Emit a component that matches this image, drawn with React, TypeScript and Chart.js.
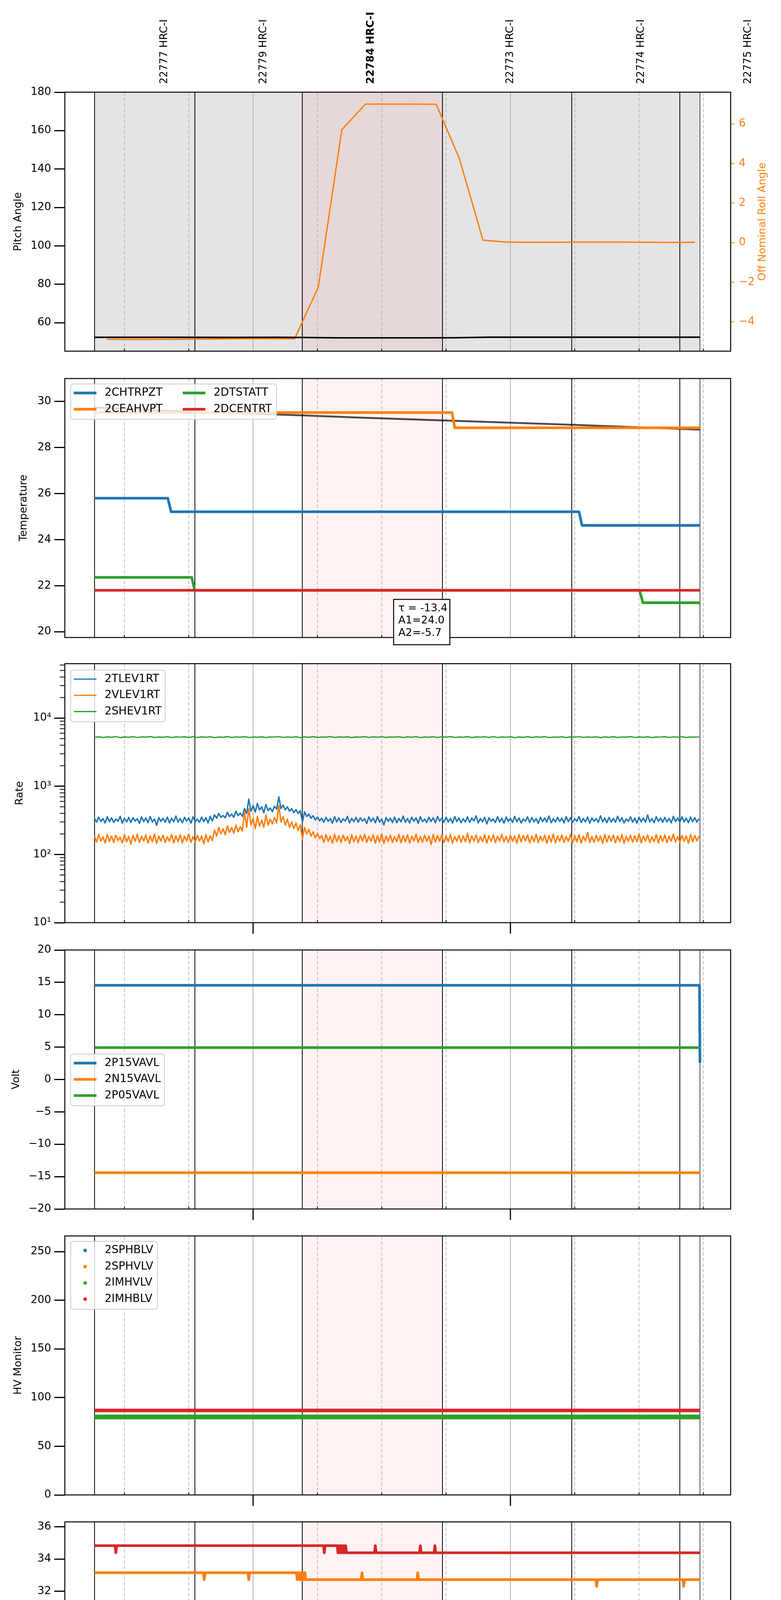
import React, { useEffect, useRef } from 'react';
import Chart from 'chart.js/auto';

const FONT = '"DejaVu Sans", sans-serif';
const FONT_FAMILY = 'DejaVu Sans';
const BLUE = '#1f77b4';
const ORANGE = '#ff7f0e';
const GREEN = '#2ca02c';
const RED = '#d62728';

// page layout (px)
const PLOT_LEFT = 166;
const PLOT_RIGHT = 1871;
const PAGE_W = 2000;
const PAGE_H = 5400;
const PANEL_TOPS = [236, 969, 1699, 2432, 3164, 3896, 4628];
const PANEL_H = 663;

// time axis, minutes from 2020-03-23 00:00
const X_MIN = -43.9;
const X_MAX = 111.35;
const MINOR_TIMES = [-30, -15, 15, 30, 45, 75, 90, 105];
const MINOR_LABELS = ['30', '45', '15', '30', '45', '15', '30', '45'];
const HOUR_TIMES = [0, 60];
const HOUR_LABELS = ['00h', '01h'];
const X_TITLE = '2020-03-23 (083)';
const DATA_START = -36.97;
const DATA_END = 104.2;
const OBS_EDGES = [-36.97, -13.57, 11.47, 44.16, 74.3, 99.5];
const HILITE = [11.47, 44.16];
const OBS_NAMES = ['22777 HRC-I', '22779 HRC-I', '22784 HRC-I', '22773 HRC-I', '22774 HRC-I', '22775 HRC-I'];
const OBS_NAME_TIMES = [-20.7, 2.5, 27.5, 60.0, 90.5, 115.5];
const BOLD_OBS = '22784 HRC-I';

// panel 1: pitch / roll
const PITCH_TICKS = [60, 80, 100, 120, 140, 160, 180];
const ROLL_TICKS = [-4, -2, 0, 2, 4, 6];
const pitchTimes = [-36.97, -20, -5, 5, 12, 20, 30, 40, 47, 55, 70, 90, 104.2];
const pitchValues = [52.4, 52.4, 52.35, 52.4, 52.3, 52.1, 52.1, 52.1, 52.15, 52.45, 52.45, 52.45, 52.45];
const rollTimes = [-34.1, -28.6, -23.1, -17.6, -12.2, -6.7, -1.2, 4.3, 9.7, 15.2, 20.7, 26.2, 31.7,
  37.2, 42.7, 48.1, 53.6, 59.1, 64.6, 70.1, 75.6, 81.1, 86.5, 92.0, 97.5, 103.0];
const rollValues = [-4.88, -4.89, -4.89, -4.88, -4.87, -4.86, -4.85, -4.85, -4.85, -2.25, 5.71, 7.0, 7.0,
  7.0, 6.99, 4.25, 0.13, 0.03, 0.02, 0.02, 0.03, 0.03, 0.03, 0.02, 0.01, 0.02];

// panel 2: temperature
const TEMP_TICKS = [20, 22, 24, 26, 28, 30];
const fitTimes = [-36.97, -25, -13.6, 0, 11.5, 25, 44.2, 60, 74.3, 90, 104.2];
const fitValues = [29.74, 29.64, 29.55, 29.47, 29.4, 29.3, 29.18, 29.08, 28.99, 28.88, 28.78];
const chtrpztTimes = [-36.97, -19.9, -19.1, 76.0, 76.7, 104.2];
const chtrpztValues = [25.8, 25.8, 25.21, 25.21, 24.62, 24.62];
const ceahvptTimes = [-36.97, 46.4, 47.0, 104.2];
const ceahvptValues = [29.52, 29.52, 28.86, 28.86];
const dtstattTimes = [-36.97, -14.3, -13.6, 90.1, 90.9, 104.2];
const dtstattValues = [22.36, 22.36, 21.8, 21.8, 21.26, 21.26];
const dcentrtTimes = [-36.97, 104.2];
const dcentrtValues = [21.8, 21.8];
const FIT_TEXT = ['\u03c4 = -13.4', 'A1=24.0', 'A2=-5.7'];

// panel 3: rates (TLEV/VLEV every 0.5 min from RATE_START, SHEV every minute)
const RATE_TICKS = [10, 100, 1000, 10000];
const RATE_START = -37;
const RATE_STEP = 0.5;
const SHE_STEP = 1;
const tlev1rt = [
  340, 298, 352, 305, 336, 290, 358, 302, 344, 296, 330, 308, 362, 288, 338, 300, 350, 294, 346, 310,
  334, 286, 356, 304, 342, 292, 360, 300, 332, 268, 348, 306, 340, 296, 354, 290, 338, 302, 366, 298,
  336, 292, 350, 308, 344, 288, 358, 300, 330, 296, 352, 304, 346, 290, 362, 310,
  380, 340, 400, 352, 372, 345, 415, 360, 390, 350, 430, 370, 405, 362,
  470, 400, 650, 430, 520, 420, 560, 450, 500, 410, 540, 440, 480, 425, 510, 460, 700, 470, 530, 450,
  500, 430, 470, 410, 455, 400, 440, 300, 420, 360, 390, 340, 370, 320, 355, 310,
  340, 296, 352, 306, 336, 288, 358, 300, 344, 294, 332, 310, 362, 290, 338, 302, 350, 296, 346, 308,
  334, 284, 356, 304, 342, 292, 360, 298, 330, 270, 348, 306, 340, 294, 354, 292, 338, 300, 366, 296,
  336, 290, 350, 306, 344, 286, 358, 302, 330, 294, 352, 304, 346, 292, 362, 308, 340, 296, 352, 300,
  338, 288, 360, 304, 344, 292, 334, 300, 356, 296, 342, 310, 368, 290, 336, 302, 350, 280, 346, 306,
  332, 294, 358, 300, 340, 288, 354, 306, 338, 296, 362, 302, 344, 290, 330, 308, 356, 294, 348, 300,
  336, 286, 352, 304, 342, 298, 366, 292, 334, 300, 350, 306, 340, 290, 358, 302, 346, 296, 332, 308,
  360, 294, 338, 300, 354, 288, 344, 306, 336, 296, 370, 302, 342, 292, 350, 300, 338, 296, 364, 304,
  346, 290, 332, 306, 356, 298, 340, 288, 352, 302, 344, 296, 380, 300, 336, 292, 358, 306, 342, 296,
  350, 300, 338, 290, 362, 304, 344, 296, 356, 300, 340, 292, 354, 302, 346, 298, 336,
];
const vlev1rt = [
  188, 152, 196, 158, 182, 146, 198, 155, 186, 150, 192, 160, 180, 148, 195, 154, 184, 142, 190, 156,
  198, 150, 184, 158, 194, 147, 188, 153, 200, 145, 186, 157, 192, 150, 182, 156, 197, 148, 188, 154,
  194, 146, 185, 158, 199, 150, 183, 152, 191, 157, 186, 144, 196, 153, 189, 160,
  230, 185, 250, 200, 240, 195, 262, 210, 248, 205, 270, 215, 255, 220,
  420, 250, 470, 270, 340, 240, 360, 260, 320, 250, 380, 270, 330, 280, 350, 290, 520, 300, 360, 270,
  330, 250, 300, 240, 290, 225, 270, 170, 250, 200, 235, 185, 215, 175, 205, 170,
  190, 150, 196, 156, 184, 146, 198, 154, 188, 150, 192, 158, 182, 144, 195, 153, 186, 149, 192, 157,
  198, 151, 184, 157, 194, 146, 188, 152, 201, 145, 186, 156, 192, 150, 183, 155, 197, 148, 189, 153,
  194, 147, 185, 158, 199, 150, 183, 151, 191, 156, 186, 140, 196, 152, 189, 157, 193, 149, 187, 154,
  197, 146, 184, 156, 192, 151, 188, 153, 205, 148, 186, 157, 193, 150, 182, 154, 196, 147, 189, 155,
  194, 149, 185, 157, 199, 152, 183, 150, 191, 156, 187, 146, 196, 153, 190, 158, 193, 148, 186, 154,
  198, 150, 184, 157, 192, 146, 188, 152, 200, 147, 186, 156, 193, 151, 183, 155, 197, 149, 189, 153,
  195, 147, 185, 158, 210, 150, 183, 151, 191, 156, 186, 145, 196, 152, 189, 157, 193, 148, 187, 154,
  197, 146, 184, 156, 192, 151, 188, 153, 202, 148, 186, 157, 193, 150, 182, 154, 196, 147, 189, 155,
  194, 149, 185, 157, 199, 152, 183, 150, 191, 156, 187, 146, 196, 153, 190, 158, 186,
];
const shev1rt = [
  5210, 5320, 5180, 5300, 5240, 5350, 5170, 5290, 5230, 5330, 5190, 5310, 5250, 5360, 5200, 5280, 5230, 5340, 5180, 5300,
  5260, 5320, 5200, 5350, 5190, 5300, 5240, 5330, 5170, 5290, 5220, 5360, 5200, 5310, 5250, 5340, 5190, 5280, 5230, 5320,
  5180, 5300, 5260, 5350, 5210, 5290, 5240, 5330, 5170, 5310, 5220, 5340, 5200, 5280, 5250, 5360, 5190, 5300, 5230, 5320,
  5180, 5290, 5260, 5340, 5210, 5310, 5240, 5330, 5200, 5290, 5250, 5320, 5180, 5300, 5240, 5350, 5170, 5290, 5230, 5330,
  5190, 5310, 5250, 5360, 5200, 5280, 5230, 5340, 5180, 5300, 5260, 5320, 5200, 5350, 5190, 5300, 5240, 5330, 5170, 5290,
  5220, 5360, 5200, 5310, 5250, 5340, 5190, 5280, 5230, 5320, 5180, 5300, 5260, 5350, 5210, 5290, 5240, 5330, 5170, 5310,
  5220, 5340, 5200, 5280, 5250, 5360, 5190, 5300, 5230, 5320, 5180, 5290, 5260, 5340, 5210, 5310, 5240, 5330, 5200, 5290,
  5250, 5300,
];

// panel 4: volts
const VOLT_TICKS = [-20, -15, -10, -5, 0, 5, 10, 15, 20];
const p15Times = [-36.97, 104.1, 104.2];
const p15Values = [14.55, 14.55, 2.6];
const n15Times = [-36.97, 104.2];
const n15Values = [-14.4, -14.4];
const p05Times = [-36.97, 104.2];
const p05Values = [4.92, 4.92];

// panel 5: HV monitor
const HV_TICKS = [0, 50, 100, 150, 200, 250];
const imhvlvTimes = [-36.97, 104.2];
const imhvlvValues = [80.1, 80.1];
const imhblvTimes = [-36.97, 104.2];
const imhblvValues = [86.8, 86.8];

// panel 6: detector temps
const DET_TICKS = [22, 24, 26, 28, 30, 32, 34, 36];
const spinatmTimes = [-36.97, 104.2];
const spinatmValues = [22.41, 22.41];
const iminatmTimes = [-36.97, 104.2];
const iminatmValues = [21.71, 21.71];
const sphvatmTimes = [-36.97, -11.6, -11.4, -11.2, -1.2, -1.0, -0.8, 10.1, 10.3, 10.5, 10.7, 10.9, 11.1, 11.3,
  11.5, 11.7, 11.9, 12.1, 12.3, 12.5, 25.2, 25.4, 25.6, 38.2, 38.4, 38.6, 79.9, 80.1, 80.3, 100.2, 100.4, 100.6, 104.2];
const sphvatmValues = [33.15, 33.15, 32.72, 33.15, 33.15, 32.72, 33.15, 33.15, 32.72, 33.15, 32.72, 33.15, 32.72, 33.15,
  32.72, 33.15, 32.72, 33.15, 32.72, 32.72, 32.72, 33.15, 32.72, 32.72, 33.15, 32.72, 32.72, 32.3, 32.72, 32.72, 32.3, 32.72, 32.72];
const imhvatmTimes = [-36.97, -32.2, -32.0, -31.8, 16.4, 16.6, 16.8,
  19.6, 19.8, 20.0, 20.2, 20.4, 20.6, 20.8, 21.0, 21.2, 21.4, 21.6, 21.8,
  28.3, 28.5, 28.7, 38.8, 39.0, 39.2, 42.2, 42.4, 42.6, 104.2];
const imhvatmValues = [34.83, 34.83, 34.39, 34.83, 34.83, 34.39, 34.83,
  34.83, 34.39, 34.83, 34.39, 34.83, 34.39, 34.83, 34.39, 34.83, 34.39, 34.83, 34.39,
  34.39, 34.83, 34.39, 34.39, 34.83, 34.39, 34.39, 34.83, 34.39, 34.39];

// panel 7: FEA temps
const FEA_TICKS = [18, 20, 22, 24, 26];
const fhtrmztTimes = [-36.97, 16.4, 16.9, 48.3, 48.6, 48.9, 75.1, 75.6, 101.9, 102.2, 102.5, 104.2];
const fhtrmztValues = [23.47, 23.47, 22.9, 22.9, 23.5, 22.9, 22.9, 22.35, 22.35, 24.55, 22.35, 22.35];
const fradpytTimes = [-36.97, -1.6, -1.0, 34.6, 35.1, 82.9, 83.5, 104.2];
const fradpytValues = [18.65, 18.65, 18.14, 18.14, 17.65, 17.65, 17.16, 17.16];
const fepratmTimes = [-36.97, -31.4, -31.2, -31.0, -30.8, -30.6, -30.4, -30.2, -30.0, -29.8, -29.6,
  79.0, 79.2, 79.4, 79.6, 79.8, 80.0, 80.2, 80.4, 80.6, 80.8, 81.0, 104.2];
const fepratmValues = [26.16, 26.16, 25.39, 26.16, 25.39, 26.16, 25.39, 26.16, 25.39, 26.16, 25.39,
  25.39, 24.63, 25.39, 24.63, 25.39, 24.63, 25.39, 24.63, 25.39, 24.63, 24.63, 24.63];
const fe00atmTimes = [
  -36.97, -16.1, -15.9, -15.7,
  -11.3, -11.1, -10.9,
  -6.1, -5.9, -5.7,
  -4.95, -4.7, -4.45, -4.2, -3.95, -3.7, -3.45, -3.2, -2.95, -2.7, -2.45, -2.1,
  -1.4, -1.2, -1.0, -0.5, -0.3, -0.1,
  1.5, 1.7, 1.9,
  2.8, 3.0, 3.2,
  4.6, 4.8, 5.0,
  6.6, 6.8, 7.0, 7.2, 7.4, 7.6,
  8.3, 8.5, 8.7, 9.1, 9.3, 9.5,
  36.0, 36.2, 36.4,
  43.4, 43.8, 46.7, 46.9, 47.1, 47.8, 48.0, 48.2,
  70.6, 70.8, 71.0,
  83.8, 84.0, 84.2,
  86.8, 87.0, 87.3, 87.6, 87.9, 88.2, 88.5, 88.7,
  91.2, 91.4, 91.6,
  95.2, 95.4, 95.6,
  104.2,
];
const fe00atmValues = [
  22.98, 22.98, 22.61, 22.98,
  22.98, 22.3, 22.98,
  22.98, 22.3, 22.98,
  22.98, 22.64, 22.98, 22.64, 22.98, 22.64, 22.98, 22.64, 22.98, 22.64, 22.98, 22.64,
  22.64, 22.98, 22.64, 22.64, 22.98, 22.64,
  22.64, 22.98, 22.64,
  22.64, 22.98, 22.64,
  22.64, 22.3, 22.64,
  22.64, 22.98, 22.64, 22.64, 23.32, 22.64,
  22.64, 22.3, 22.64, 22.64, 22.3, 22.64,
  22.64, 21.97, 22.64,
  22.64, 22.33, 22.33, 22.64, 22.33, 22.33, 21.05, 22.33,
  22.33, 21.69, 22.33,
  22.33, 22.02, 22.33,
  22.33, 22.02, 22.33, 22.02, 22.33, 22.02, 22.33, 22.02,
  22.02, 22.33, 22.02,
  22.02, 22.33, 22.02,
  22.02,
];

type LegendItem = { label: string; color: string; lw: number; dot?: boolean };
type PanelDef = {
  title: string;
  titleX: number;
  datasets: any[];
  scales: any;
  legend?: { top: number; width: number; cols: number; items: LegendItem[] };
  grayBand?: boolean;
  obsLabels?: boolean;
  hourTicks?: boolean;
  timeLabels?: boolean;
  logMinor?: boolean;
  fitBox?: boolean;
  rightTitle?: string;
};

const xy = (ts: number[], vs: number[]) => ts.map((t, i) => ({ x: t, y: vs[i] }));
const sampled = (vs: number[], step: number) => vs.map((v, i) => ({ x: RATE_START + i * step, y: v }));
const fmt = (v: number) => (v < 0 ? '\u2212' + Math.abs(v) : String(v));
const SUP: Record<string, string> = { '0': '\u2070', '1': '\u00b9', '2': '\u00b2', '3': '\u00b3', '4': '\u2074' };
const fmtPow = (v: number) => '10' + String(Math.round(Math.log10(v))).split('').map((c) => SUP[c]).join('');

function lineDs(label: string, data: any[], color: string, lw: number, yAxisID = 'y') {
  return {
    label, data, yAxisID,
    borderColor: color, backgroundColor: color, borderWidth: lw,
    pointRadius: 0, tension: 0, fill: false,
    borderJoinStyle: 'round', borderCapStyle: 'butt',
  };
}

function yAxis(min: number, max: number, ticks: number[], extra: any = {}) {
  return {
    type: 'linear', position: 'left', min, max,
    afterBuildTicks: (s: any) => { s.ticks = ticks.map((v) => ({ value: v })); },
    afterFit: (s: any) => { s.width = PLOT_LEFT; },
    border: { display: false },
    grid: { display: true, drawOnChartArea: false, drawTicks: true, tickLength: 27, tickWidth: 3, tickColor: '#000' },
    ticks: { autoSkip: false, color: '#000', padding: 8, font: { family: FONT_FAMILY, size: 27.5 }, callback: (v: number) => fmt(v) },
    ...extra,
  };
}

const xAxis = { type: 'linear', min: X_MIN, max: X_MAX, display: false };

function panelDefs(): PanelDef[] {
  const thick = 6.8;
  return [
    {
      title: 'Pitch Angle', titleX: 47, grayBand: true, obsLabels: true, rightTitle: 'Off Nominal Roll Angle',
      datasets: [
        lineDs('Roll', xy(rollTimes, rollValues), ORANGE, 3.5, 'y2'),
        lineDs('Pitch', xy(pitchTimes, pitchValues), '#000', 3.8),
      ],
      scales: {
        x: xAxis,
        y: yAxis(45.18, 180, PITCH_TICKS),
        y2: {
          type: 'linear', position: 'right', min: -5.48, max: 7.6,
          afterBuildTicks: (s: any) => { s.ticks = ROLL_TICKS.map((v) => ({ value: v })); },
          afterFit: (s: any) => { s.width = PAGE_W - PLOT_RIGHT; },
          border: { display: false },
          grid: { display: true, drawOnChartArea: false, drawTicks: true, tickLength: 10, tickWidth: 2, tickColor: ORANGE },
          ticks: { autoSkip: false, color: ORANGE, padding: 11, font: { family: FONT_FAMILY, size: 27.5 }, callback: (v: number) => fmt(v) },
        },
      },
    },
    {
      title: 'Temperature', titleX: 61, fitBox: true,
      datasets: [
        lineDs('fit', xy(fitTimes, fitValues), 'rgba(0,0,0,0.7)', 4.8),
        lineDs('2CHTRPZT', xy(chtrpztTimes, chtrpztValues), BLUE, thick),
        lineDs('2CEAHVPT', xy(ceahvptTimes, ceahvptValues), ORANGE, thick),
        lineDs('2DTSTATT', xy(dtstattTimes, dtstattValues), GREEN, thick),
        lineDs('2DCENTRT', xy(dcentrtTimes, dcentrtValues), RED, thick),
      ],
      scales: { x: xAxis, y: yAxis(19.75, 31.0, TEMP_TICKS) },
      legend: {
        top: 14, width: 527, cols: 2,
        items: [
          { label: '2CHTRPZT', color: BLUE, lw: thick },
          { label: '2CEAHVPT', color: ORANGE, lw: thick },
          { label: '2DTSTATT', color: GREEN, lw: thick },
          { label: '2DCENTRT', color: RED, lw: thick },
        ],
      },
    },
    {
      title: 'Rate', titleX: 51, hourTicks: true, logMinor: true,
      datasets: [
        lineDs('2TLEV1RT', sampled(tlev1rt, RATE_STEP), BLUE, 3.6),
        lineDs('2VLEV1RT', sampled(vlev1rt, RATE_STEP), ORANGE, 3.6),
        lineDs('2SHEV1RT', sampled(shev1rt, SHE_STEP), GREEN, 3.2),
      ],
      scales: {
        x: xAxis,
        y: yAxis(10, 62800, RATE_TICKS, {
          type: 'logarithmic',
          ticks: { autoSkip: false, color: '#000', padding: 8, font: { family: FONT_FAMILY, size: 27.5 }, callback: (v: number) => fmtPow(v) },
        }),
      },
      legend: {
        top: 16.5, width: 242, cols: 1,
        items: [
          { label: '2TLEV1RT', color: BLUE, lw: 3.2 },
          { label: '2VLEV1RT', color: ORANGE, lw: 3.2 },
          { label: '2SHEV1RT', color: GREEN, lw: 3.2 },
        ],
      },
    },
    {
      title: 'Volt', titleX: 42, hourTicks: true,
      datasets: [
        lineDs('2P15VAVL', xy(p15Times, p15Values), BLUE, thick),
        lineDs('2N15VAVL', xy(n15Times, n15Values), ORANGE, thick),
        lineDs('2P05VAVL', xy(p05Times, p05Values), GREEN, thick),
      ],
      scales: { x: xAxis, y: yAxis(-20, 20, VOLT_TICKS) },
      legend: {
        top: 266.5, width: 240, cols: 1,
        items: [
          { label: '2P15VAVL', color: BLUE, lw: thick },
          { label: '2N15VAVL', color: ORANGE, lw: thick },
          { label: '2P05VAVL', color: GREEN, lw: thick },
        ],
      },
    },
    {
      title: 'HV Monitor', titleX: 47, hourTicks: true,
      datasets: [
        lineDs('2SPHBLV', [], BLUE, 9),
        lineDs('2SPHVLV', [], ORANGE, 9),
        lineDs('2IMHVLV', xy(imhvlvTimes, imhvlvValues), GREEN, 12),
        lineDs('2IMHBLV', xy(imhblvTimes, imhblvValues), RED, 9),
      ],
      scales: { x: xAxis, y: yAxis(0, 266.1, HV_TICKS) },
      legend: {
        top: 14, width: 222, cols: 1,
        items: [
          { label: '2SPHBLV', color: BLUE, lw: 0, dot: true },
          { label: '2SPHVLV', color: ORANGE, lw: 0, dot: true },
          { label: '2IMHVLV', color: GREEN, lw: 0, dot: true },
          { label: '2IMHBLV', color: RED, lw: 0, dot: true },
        ],
      },
    },
    {
      title: 'Detector Temp', titleX: 64, hourTicks: true,
      datasets: [
        lineDs('2SPINATM', xy(spinatmTimes, spinatmValues), BLUE, thick),
        lineDs('2SPHVATM', xy(sphvatmTimes, sphvatmValues), ORANGE, thick),
        lineDs('2IMINATM', xy(iminatmTimes, iminatmValues), GREEN, thick),
        lineDs('2IMHVATM', xy(imhvatmTimes, imhvatmValues), RED, thick),
      ],
      scales: { x: xAxis, y: yAxis(20.21, 36.31, DET_TICKS) },
      legend: {
        top: 245, width: 245, cols: 1,
        items: [
          { label: '2SPINATM', color: BLUE, lw: thick },
          { label: '2SPHVATM', color: ORANGE, lw: thick },
          { label: '2IMINATM', color: GREEN, lw: thick },
          { label: '2IMHVATM', color: RED, lw: thick },
        ],
      },
    },
    {
      title: 'FEA Temp', titleX: 61, hourTicks: true, timeLabels: true,
      datasets: [
        lineDs('2FHTRMZT', xy(fhtrmztTimes, fhtrmztValues), BLUE, thick),
        lineDs('2FRADPYT', xy(fradpytTimes, fradpytValues), ORANGE, thick),
        lineDs('2FEPRATM', xy(fepratmTimes, fepratmValues), GREEN, thick),
        lineDs('2FE00ATM', xy(fe00atmTimes, fe00atmValues), RED, thick),
      ],
      scales: { x: xAxis, y: yAxis(16.14, 26.89, FEA_TICKS) },
      legend: {
        top: 243.5, width: 249, cols: 1,
        items: [
          { label: '2FHTRMZT', color: BLUE, lw: thick },
          { label: '2FRADPYT', color: ORANGE, lw: thick },
          { label: '2FEPRATM', color: GREEN, lw: thick },
          { label: '2FE00ATM', color: RED, lw: thick },
        ],
      },
    },
  ];
}

function seg(ctx: CanvasRenderingContext2D, x1: number, y1: number, x2: number, y2: number) {
  ctx.beginPath();
  ctx.moveTo(x1, y1);
  ctx.lineTo(x2, y2);
  ctx.stroke();
}

function rotText(ctx: CanvasRenderingContext2D, text: string, x: number, y: number) {
  ctx.save();
  ctx.translate(x, y);
  ctx.rotate(-Math.PI / 2);
  ctx.fillText(text, 0, 0);
  ctx.restore();
}

function drawLegend(ctx: CanvasRenderingContext2D, top: number, lg: NonNullable<PanelDef['legend']>) {
  const x0 = PLOT_LEFT + 15;
  const rows = Math.ceil(lg.items.length / lg.cols);
  const h = 49 + (rows - 1) * 41.6;
  const r = 7;
  ctx.beginPath();
  ctx.moveTo(x0 + r, top);
  ctx.arcTo(x0 + lg.width, top, x0 + lg.width, top + h, r);
  ctx.arcTo(x0 + lg.width, top + h, x0, top + h, r);
  ctx.arcTo(x0, top + h, x0, top, r);
  ctx.arcTo(x0, top, x0 + lg.width, top, r);
  ctx.closePath();
  ctx.fillStyle = 'rgba(255,255,255,0.8)';
  ctx.fill();
  ctx.strokeStyle = '#cccccc';
  ctx.lineWidth = 2;
  ctx.stroke();
  ctx.font = `28px ${FONT}`;
  ctx.textAlign = 'left';
  ctx.textBaseline = 'middle';
  lg.items.forEach((it, j) => {
    const col = Math.floor(j / rows);
    const row = j % rows;
    const bx = x0 + col * 279;
    const cy = top + 23 + row * 41.6;
    if (it.dot) {
      ctx.fillStyle = it.color;
      ctx.beginPath();
      ctx.arc(bx + 37, cy, 4.5, 0, Math.PI * 2);
      ctx.fill();
    } else {
      ctx.strokeStyle = it.color;
      ctx.lineWidth = it.lw;
      ctx.lineCap = 'butt';
      seg(ctx, bx + 8, cy, bx + 66, cy);
    }
    ctx.fillStyle = '#000';
    ctx.fillText(it.label, bx + 87, cy);
  });
}

function decorPlugin(p: PanelDef) {
  return {
    id: 'decor',
    beforeDatasetsDraw(chart: any) {
      const { ctx, chartArea: a } = chart;
      const px = (t: number) => chart.scales.x.getPixelForValue(t);
      const vline = (x: number) => seg(ctx, x, a.top, x, a.bottom);
      ctx.save();
      ctx.beginPath();
      ctx.rect(a.left, a.top, a.right - a.left, a.bottom - a.top);
      ctx.clip();
      if (p.grayBand) {
        ctx.fillStyle = '#e4e4e4';
        ctx.fillRect(px(DATA_START), a.top, px(DATA_END) - px(DATA_START), a.bottom - a.top);
      }
      ctx.fillStyle = 'rgba(255,0,0,0.05)';
      ctx.fillRect(px(HILITE[0]), a.top, px(HILITE[1]) - px(HILITE[0]), a.bottom - a.top);
      ctx.strokeStyle = '#b0b0b0';
      ctx.lineWidth = 1.6;
      ctx.setLineDash([9, 5]);
      MINOR_TIMES.forEach((t) => vline(px(t)));
      ctx.setLineDash([]);
      ctx.lineWidth = 2;
      HOUR_TIMES.forEach((t) => vline(px(t)));
      ctx.strokeStyle = '#000';
      OBS_EDGES.forEach((t) => vline(px(t)));
      ctx.strokeStyle = '#444';
      vline(px(DATA_END));
      ctx.restore();
    },
    afterDatasetsDraw(chart: any) {
      const { ctx, chartArea: a } = chart;
      const px = (t: number) => chart.scales.x.getPixelForValue(t);
      const midY = (a.top + a.bottom) / 2;
      ctx.save();
      // frame
      ctx.strokeStyle = '#000';
      ctx.lineWidth = 2.5;
      ctx.strokeRect(a.left, a.top, a.right - a.left, a.bottom - a.top);
      // x ticks
      ctx.lineWidth = 2;
      MINOR_TIMES.forEach((t) => seg(ctx, px(t), a.bottom, px(t), a.bottom - 7));
      if (p.hourTicks) {
        ctx.lineWidth = 3;
        HOUR_TIMES.forEach((t) => seg(ctx, px(t), a.bottom, px(t), a.bottom + 28));
      }
      if (p.logMinor) {
        const ys = chart.scales.y;
        ctx.lineWidth = 2;
        for (let e = 1; e <= 4; e++) {
          for (let k = 2; k <= 9; k++) {
            const v = k * Math.pow(10, e);
            if (v > ys.max) continue;
            const y = ys.getPixelForValue(v);
            seg(ctx, a.left - 13, y, a.left, y);
          }
        }
      }
      ctx.fillStyle = '#000';
      ctx.textAlign = 'center';
      ctx.textBaseline = 'middle';
      if (p.timeLabels) {
        ctx.font = `18px ${FONT}`;
        MINOR_TIMES.forEach((t, i) => ctx.fillText(MINOR_LABELS[i], px(t), a.bottom + 15));
        ctx.font = `27.5px ${FONT}`;
        HOUR_TIMES.forEach((t, i) => ctx.fillText(HOUR_LABELS[i], px(t), a.bottom + 49));
        ctx.font = `33px ${FONT}`;
        ctx.fillText(X_TITLE, (a.left + a.right) / 2, a.bottom + 87);
      }
      // axis titles
      ctx.font = `27px ${FONT}`;
      rotText(ctx, p.title, p.titleX, midY);
      if (p.rightTitle) {
        ctx.fillStyle = ORANGE;
        rotText(ctx, p.rightTitle, 1953, midY);
        ctx.fillStyle = '#000';
      }
      if (p.obsLabels) {
        ctx.textAlign = 'left';
        OBS_NAMES.forEach((name, i) => {
          ctx.font = name === BOLD_OBS ? `bold 26.5px ${FONT}` : `26.5px ${FONT}`;
          rotText(ctx, name, px(OBS_NAME_TIMES[i]), a.top - 21);
        });
      }
      if (p.legend) drawLegend(ctx, a.top + p.legend.top, p.legend);
      if (p.fitBox) {
        const bx = 1008;
        const by = a.top + 565.5;
        ctx.fillStyle = '#fff';
        ctx.fillRect(bx, by, 144, 116);
        ctx.strokeStyle = '#000';
        ctx.lineWidth = 2.5;
        ctx.strokeRect(bx, by, 144, 116);
        ctx.fillStyle = '#000';
        ctx.font = `27px ${FONT}`;
        ctx.textAlign = 'left';
        FIT_TEXT.forEach((line, i) => ctx.fillText(line, bx + 12, by + 23 + i * 31.5));
      }
      ctx.restore();
    },
  };
}

const PanelChart: React.FC<{ index: number }> = ({ index }) => {
  const chartRef = useRef<HTMLCanvasElement | null>(null);
  const top = PANEL_TOPS[index];
  const canvasTop = index === 0 ? 0 : top - 50;
  const padTop = top - canvasTop;
  const padBottom = index === PANEL_TOPS.length - 1 ? PAGE_H - top - PANEL_H : 50;
  const height = padTop + PANEL_H + padBottom;

  useEffect(() => {
    const canvas = chartRef.current;
    if (!canvas) return;
    const def = panelDefs()[index];
    // later datasets sit on top, as in the source plot
    def.datasets.forEach((ds, i) => { ds.order = -i; });
    const chart = new Chart(canvas, {
      type: 'line',
      data: { datasets: def.datasets },
      options: {
        animation: false,
        responsive: false,
        devicePixelRatio: 1,
        events: [],
        layout: { padding: { top: padTop, bottom: padBottom, left: 0, right: def.scales.y2 ? 0 : PAGE_W - PLOT_RIGHT } },
        plugins: { legend: { display: false }, tooltip: { enabled: false } },
        scales: def.scales,
      },
      plugins: [decorPlugin(def)],
    } as any);
    return () => {
      chart.destroy();
    };
  }, [index]);

  return (
    <canvas
      ref={chartRef}
      width={PAGE_W}
      height={height}
      style={{ position: 'absolute', left: 0, top: canvasTop, width: PAGE_W, height }}
    />
  );
};

export default function App() {
  useEffect(() => {
    document.body.style.margin = '0';
  }, []);
  return (
    <div style={{ position: 'absolute', left: 0, top: 0, width: PAGE_W, height: PAGE_H, background: '#fff' }}>
      {PANEL_TOPS.map((_, i) => (
        <PanelChart key={i} index={i} />
      ))}
    </div>
  );
}
